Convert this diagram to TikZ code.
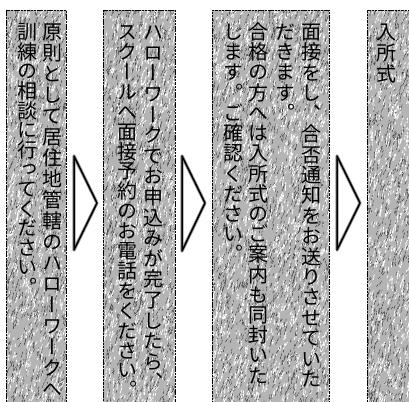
\documentclass[tikz,border=0pt]{standalone}
\usepackage{fontspec}
\newfontfamily\jpv[RawFeature=+vert]{Noto Sans CJK JP}
\definecolor{panelgray}{HTML}{B4B4B4}
\definecolor{streakdark}{HTML}{2A2A2A}
\definecolor{chevshadow}{HTML}{9A9A9A}

\newcommand\paneltexture[3]{%
  \pgfmathsetseed{#1}%
  \pgfmathtruncatemacro\nstr{(#2/12)*#3}%
  \coordinate (tnw) at (path picture bounding box.north west);
  \foreach \i in {1,...,\nstr}{%
    \pgfmathsetmacro\rx{rnd*(#2+6)-3}%
    \pgfmathsetmacro\ry{rnd*(#3+6)-3}%
    \pgfmathsetmacro\rdx{rnd*2.5}%
    \pgfmathsetmacro\rdy{2+rnd*5}%
    \ifodd\i
      \draw[streakdark,line width=0.4pt] (tnw) ++(\rx,\ry) -- ++(\rdx,-\rdy);
    \else
      \draw[white,line width=0.85pt] (tnw) ++(\rx,\ry) -- ++(\rdx,-\rdy);
    \fi
  }}

\newcount\vcn
\newcommand\vcol[5]{% name, x, y0 (baseline of first), pitch, text
  \def\vcname{#1}\def\vcx{#2}\def\vcp{#4}\pgfmathsetmacro\vcy{#3}\vcn=0
  \vcolloop#5\relax}
\def\vcolloop#1{\ifx\relax#1\else
  \advance\vcn by 1
  \node[jch] (\vcname-\the\vcn) at (\vcx,\vcy) {#1};
  \pgfmathsetmacro\vcy{\vcy+\vcp}%
  \expandafter\vcolloop\fi}

\begin{document}
\begin{tikzpicture}[x=1pt,y=-1pt,
  panel/.style n args={3}{draw=black, line width=0.8pt,
    dash pattern=on 2.5pt off 0.8pt, fill=panelgray, inner sep=0pt,
    anchor=north west, minimum width=#2pt, minimum height=#3pt,
    path picture={\paneltexture{#1}{#2}{#3}}},
  jch/.style={font=\jpv\fontsize{20pt}{20pt}\selectfont, text=black,
    inner sep=0pt, anchor=base},
  chevback/.style={chevshadow, line width=3.2pt, line join=round, line cap=round},
  chev/.style={black, line width=1.5pt, line join=round, line cap=round}]
\useasboundingbox[fill=white] (0,0) rectangle (409,401);

% panels
\node[panel={11}{60}{395}] (p1) at (6,10) {};
\node[panel={23}{72}{395}] (p2) at (103,10) {};
\node[panel={37}{117}{395}] (p3) at (212,10) {};
\node[panel={53}{50}{395}] (p4) at (367,10) {};

% chevrons between panels
\coordinate (a1) at (74,156);  \coordinate (t1) at (97,203);  \coordinate (b1) at (74,250);
\coordinate (a2) at (182,156); \coordinate (t2) at (205,203); \coordinate (b2) at (182,251);
\coordinate (a3) at (337,156); \coordinate (t3) at (360,203); \coordinate (b3) at (337,250);
\foreach \k in {1,2,3}{
  \draw[chevback] (a\k) -- (t\k) -- (b\k) -- cycle;
  \draw[chev] (a\k) -- (t\k) -- (b\k) -- cycle;
}

% vertical text (baseline = centre + 7.6)
\vcol{c1a}{52}{39.6}{21}{原則として居住地管轄のハローワークへ}
\vcol{c1b}{27}{39.6}{19.6}{訓練の相談に行ってください。}
\vcol{c2a}{153}{39.6}{20.6}{ハローワークでお申込みが完了したら、}
\vcol{c2b}{127}{39.6}{19.9}{スクールへ面接予約のお電話をください。}
\vcol{c3a}{311}{39.6}{20.4}{面接をし、合否通知をお送りさせていた}
\vcol{c3b}{285}{39.6}{20.2}{だきます。}
\vcol{c3c}{258}{39.6}{20.2}{合格の方へは入所式のご案内も同封いた}
\vcol{c3d}{233}{39.6}{20.2}{します。ご確認ください。}
\vcol{c4a}{386}{39.6}{21}{入所式}
\end{tikzpicture}
\end{document}
